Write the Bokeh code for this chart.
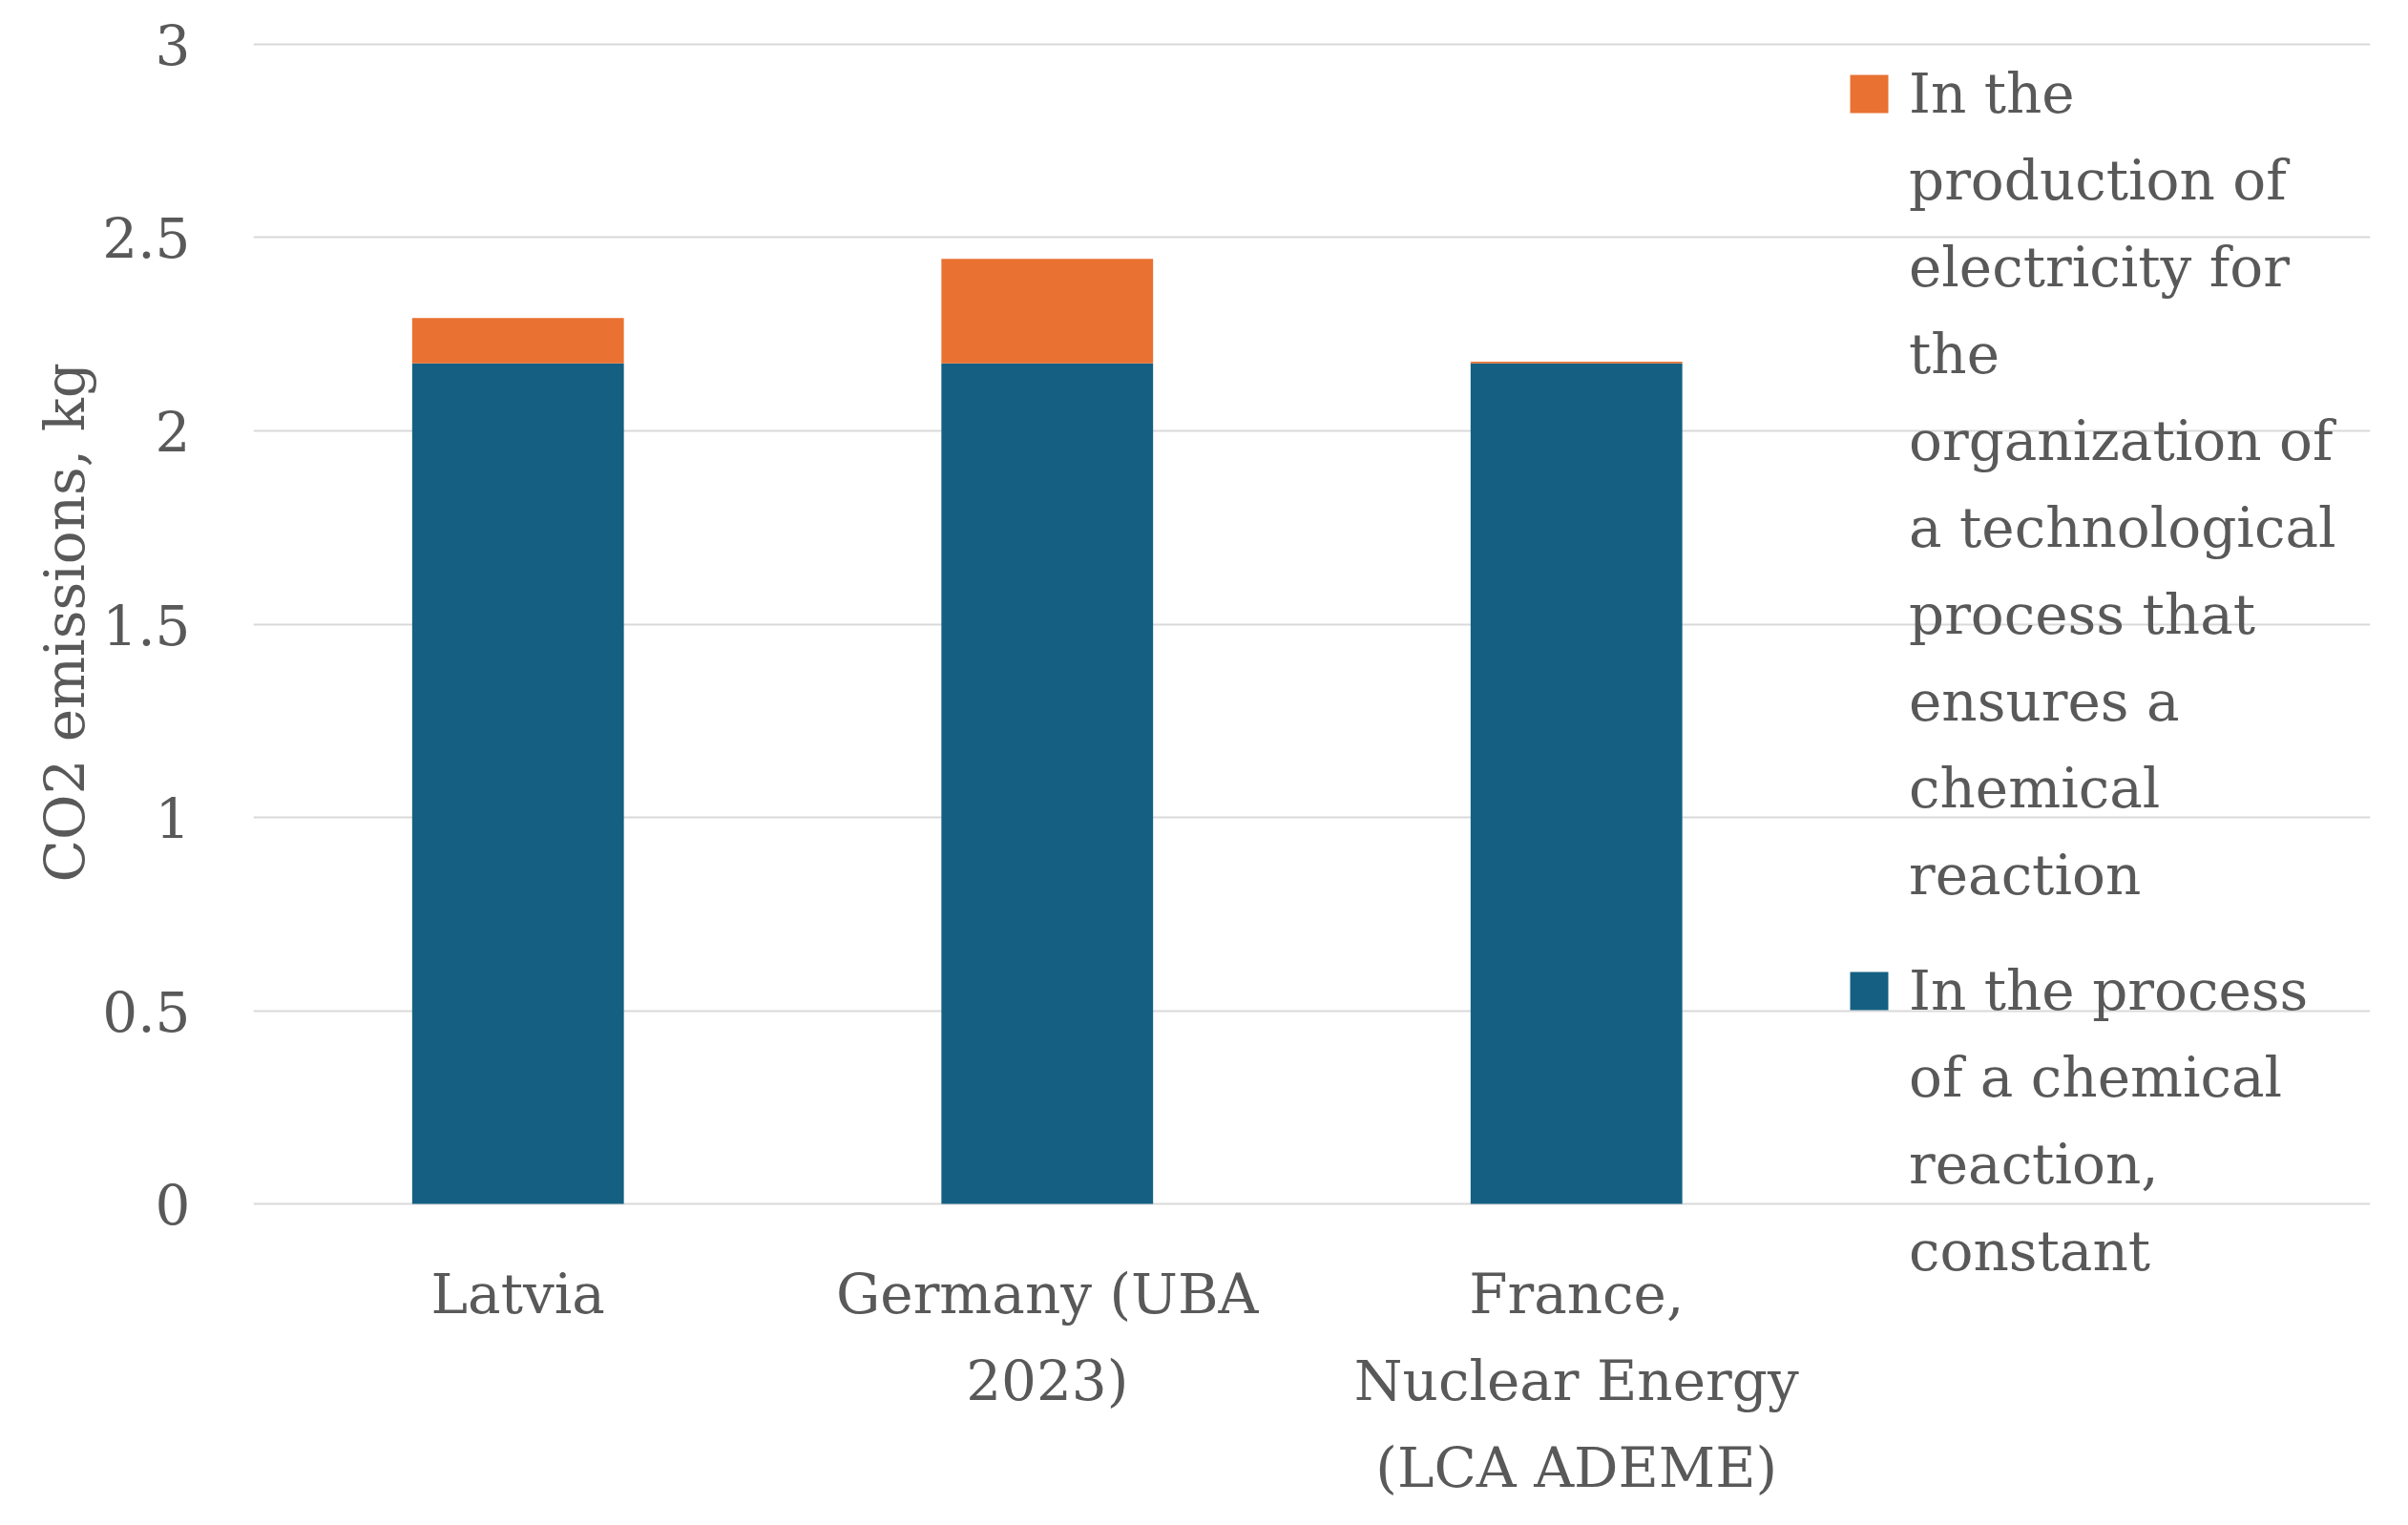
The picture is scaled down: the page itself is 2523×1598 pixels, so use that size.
from bokeh.plotting import figure
from bokeh.models import ColumnDataSource, FixedTicker, Legend, LegendItem, Title
from bokeh.embed import file_html
from bokeh.resources import INLINE

# ---- data ----
categories = ["Latvia", "Germany (UBA\n2023)", "France,\nNuclear Energy\n(LCA ADEME)"]
x_pos = [0, 1, 2]
chemical_reaction = [2.175, 2.175, 2.175]
electricity = [0.117, 0.27, 0.004]
y_ticks = [0, 0.5, 1, 1.5, 2, 2.5, 3]
y_tick_labels = ["0", "0.5", "1", "1.5", "2", "2.5", "3"]
legend_electricity = ["In the", "production of", "electricity for", "the", "organization of",
                      "a technological", "process that", "ensures a", "chemical", "reaction"]
legend_chemical = ["In the process", "of a chemical", "reaction,", "constant"]
y_title = "CO2 emissions, kg"
colors = ["#156082", "#E97132"]

FONT = "DejaVu Serif"
TXT = "#595959"
FS = "58px"

source = ColumnDataSource(dict(x=x_pos, chem=chemical_reaction, elec=electricity))

# frame extends a little below 0 so the legend's last line is not clipped
p = figure(width=2507, height=1582, x_range=(-0.5, 3.5), y_range=(-0.269, 3.0049),
           output_backend="svg", toolbar_location=None,
           min_border_left=265, min_border_right=24, min_border_top=44, min_border_bottom=212)

rs = p.vbar_stack(["chem", "elec"], x="x", width=0.4, color=colors, source=source, line_width=0)
# invisible placeholder for legend continuation lines
blank = p.scatter(x=[], y=[], fill_alpha=0, line_alpha=0)

p.outline_line_color = None
p.background_fill_color = "white"

# grid
p.xgrid.grid_line_color = None
p.ygrid.grid_line_color = "#d9d9d9"
p.ygrid.grid_line_width = 2
p.ygrid.ticker = FixedTicker(ticks=y_ticks)

# y axis
p.yaxis.ticker = FixedTicker(ticks=y_ticks)
p.yaxis.major_label_overrides = {t: l for t, l in zip(y_ticks, y_tick_labels)}
p.yaxis.axis_line_color = None
p.yaxis.major_tick_line_color = None
p.yaxis.minor_tick_line_color = None
p.yaxis.major_label_text_font = FONT
p.yaxis.major_label_text_font_size = FS
p.yaxis.major_label_text_color = TXT
p.yaxis.major_label_standoff = 60

# y title (placed along the 0..3 span)
yt = Title(text=y_title, align="left", offset=446, standoff=6)
yt.text_font = FONT
yt.text_font_size = FS
yt.text_font_style = "normal"
yt.text_color = TXT
p.add_layout(yt, "left")

# x axis
p.xaxis.ticker = FixedTicker(ticks=x_pos)
p.xaxis.major_label_overrides = {x: c for x, c in zip(x_pos, categories)}
p.xaxis.axis_line_color = None
p.xaxis.major_tick_line_color = None
p.xaxis.minor_tick_line_color = None
p.xaxis.major_label_text_font = FONT
p.xaxis.major_label_text_font_size = FS
p.xaxis.major_label_text_color = TXT
p.xaxis.major_label_text_line_height = 1.34
p.xaxis.major_label_standoff = -55


def make_legend(lines, renderer, location):
    items = [LegendItem(label=lines[0], renderers=[renderer])]
    items += [LegendItem(label=t, renderers=[blank]) for t in lines[1:]]
    lg = Legend(items=items, location=location)
    lg.label_text_font = FONT
    lg.label_text_font_size = FS
    lg.label_text_color = TXT
    lg.label_height = 91
    lg.glyph_width = 50
    lg.glyph_height = 50
    lg.label_standoff = 17
    lg.spacing = 0
    lg.padding = 0
    lg.margin = 0
    lg.background_fill_alpha = 0
    lg.border_line_color = None
    return lg


p.add_layout(make_legend(legend_electricity, rs[1], (1668, 408)))
p.add_layout(make_legend(legend_chemical, rs[0], (1668, 14)))

open("out.html", "w").write(file_html(p, INLINE))
